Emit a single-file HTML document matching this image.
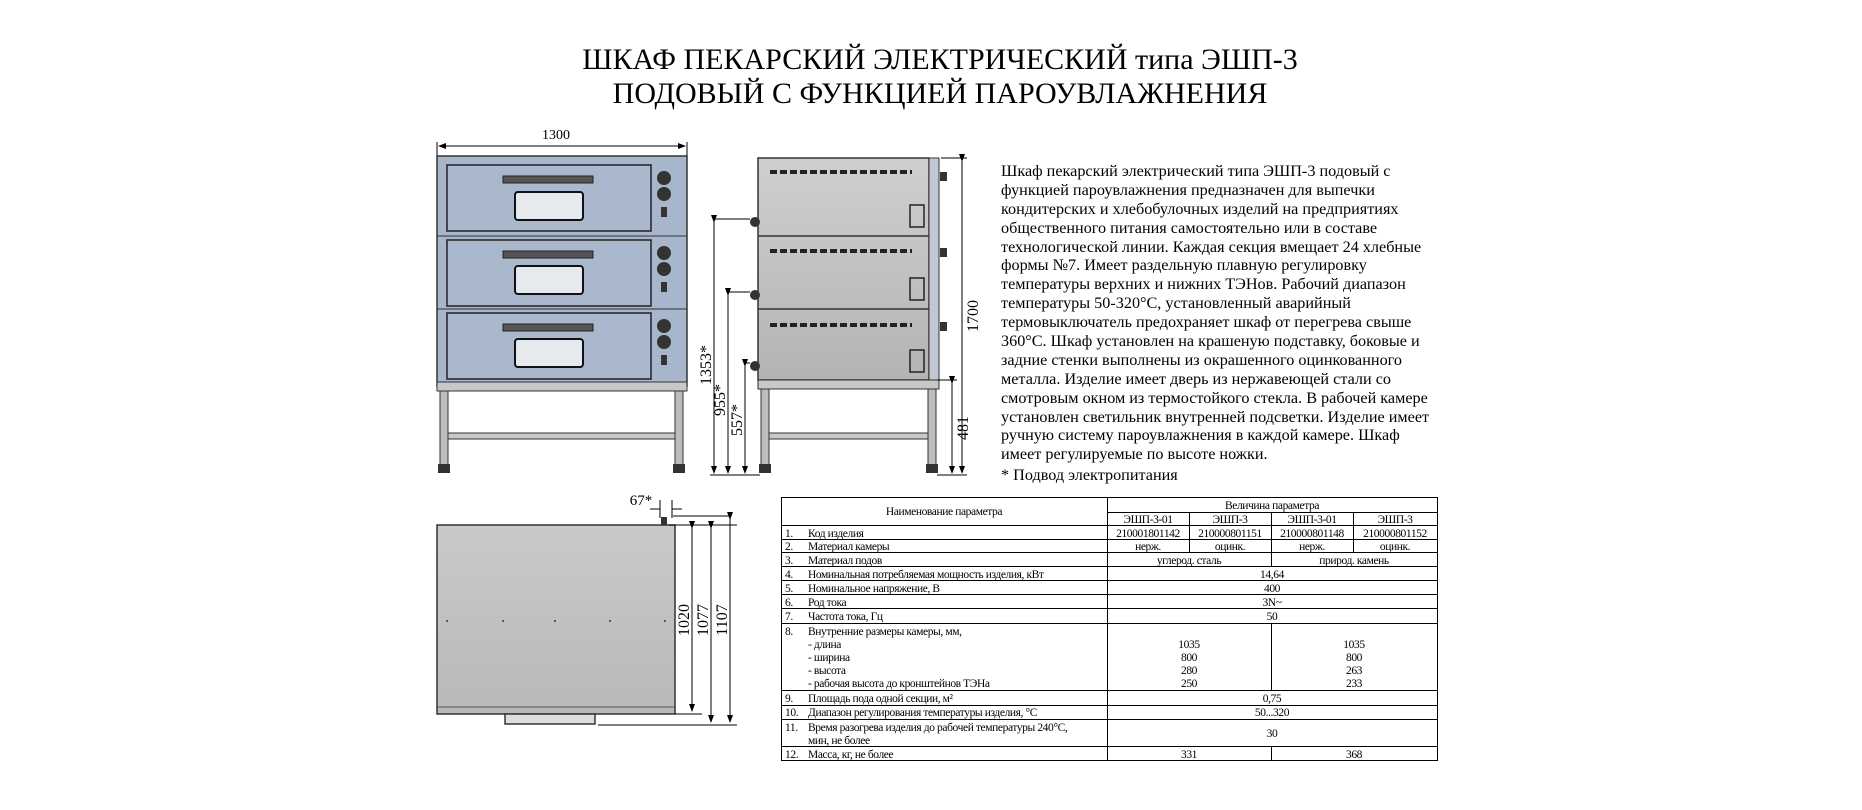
<!DOCTYPE html>
<html><head><meta charset="utf-8"><style>
html,body{margin:0;padding:0;background:#fff;}
svg{display:block;font-family:"Liberation Serif",serif;}
</style></head><body>
<svg width="1862" height="810" viewBox="0 0 1862 810" xmlns="http://www.w3.org/2000/svg">
<defs>
<linearGradient id="gs" x1="0" y1="0" x2="0" y2="1"><stop offset="0" stop-color="#cfcfcf"/><stop offset="1" stop-color="#b4b4b4"/></linearGradient>
<linearGradient id="gt" x1="0" y1="0" x2="0" y2="1"><stop offset="0" stop-color="#c9c9c9"/><stop offset="1" stop-color="#b9b9b9"/></linearGradient>
<marker id="ar" markerWidth="8" markerHeight="6" refX="7" refY="3" orient="auto"><path d="M0,0 L8,3 L0,6z" fill="#000"/></marker>
</defs>
<text x="940" y="69" font-size="30" text-anchor="middle">ШКАФ ПЕКАРСКИЙ ЭЛЕКТРИЧЕСКИЙ типа ЭШП-3</text>
<text x="940" y="103" font-size="30" text-anchor="middle">ПОДОВЫЙ С ФУНКЦИЕЙ ПАРОУВЛАЖНЕНИЯ</text>

<!-- FRONT VIEW -->
<text x="556" y="139" font-size="14" text-anchor="middle">1300</text>
<line x1="439" y1="146" x2="685" y2="146" stroke="#000" stroke-width="1" marker-end="url(#ar)"/>
<line x1="685" y1="146" x2="439" y2="146" stroke="#000" stroke-width="1" marker-end="url(#ar)"/>
<line x1="437" y1="142" x2="437" y2="156" stroke="#000"/><line x1="687" y1="142" x2="687" y2="156" stroke="#000"/>
<rect x="437" y="156" width="250" height="230" fill="#a7b6cb" stroke="#333" stroke-width="1.5"/>
<g stroke="#222" stroke-width="1.5">
<rect x="447" y="165" width="204" height="66" fill="#a9b8cd"/>
<rect x="447" y="240" width="204" height="66" fill="#a9b8cd"/>
<rect x="447" y="313" width="204" height="66" fill="#a9b8cd"/>
</g>
<g fill="#555" stroke="#222">
<rect x="503" y="176" width="90" height="7"/><rect x="503" y="251" width="90" height="7"/><rect x="503" y="324" width="90" height="7"/>
</g>
<g fill="#e6e9ee" stroke="#111" stroke-width="2">
<rect x="515" y="192" width="68" height="28" rx="3"/><rect x="515" y="266" width="68" height="28" rx="3"/><rect x="515" y="339" width="68" height="28" rx="3"/>
</g>
<g fill="#333">
<circle cx="664" cy="178" r="7"/><circle cx="664" cy="194" r="7"/><rect x="661" y="207" width="6" height="10"/>
<circle cx="664" cy="253" r="7"/><circle cx="664" cy="269" r="7"/><rect x="661" y="282" width="6" height="10"/>
<circle cx="664" cy="326" r="7"/><circle cx="664" cy="342" r="7"/><rect x="661" y="355" width="6" height="10"/>
</g>
<line x1="437" y1="236" x2="687" y2="236" stroke="#333"/><line x1="437" y1="309" x2="687" y2="309" stroke="#333"/>
<rect x="437" y="382" width="250" height="9" fill="#c8c8c8" stroke="#333"/>
<rect x="445" y="433" width="234" height="6" fill="#c8c8c8" stroke="#333"/>
<rect x="440" y="391" width="8" height="75" fill="#bdbdbd" stroke="#333"/>
<rect x="675" y="391" width="8" height="75" fill="#bdbdbd" stroke="#333"/>
<rect x="438" y="464" width="12" height="9" fill="#333"/><rect x="673" y="464" width="12" height="9" fill="#333"/>

<!-- SIDE VIEW -->
<rect x="758" y="158" width="171" height="222" fill="url(#gs)" stroke="#333" stroke-width="1.5"/>
<line x1="758" y1="236" x2="929" y2="236" stroke="#333" stroke-width="1.5"/>
<line x1="758" y1="309" x2="929" y2="309" stroke="#333" stroke-width="1.5"/>
<rect x="929" y="158" width="10" height="222" fill="#c0c8d4" stroke="#333"/>
<g fill="#333">
<rect x="940" y="172" width="7" height="9"/><rect x="940" y="248" width="7" height="9"/><rect x="940" y="322" width="7" height="9"/>
<circle cx="755" cy="222" r="5"/><circle cx="755" cy="295" r="5"/><circle cx="755" cy="366" r="5"/>
</g>
<g stroke="#222" stroke-width="4" stroke-dasharray="7,3">
<line x1="770" y1="172" x2="912" y2="172"/><line x1="770" y1="251" x2="912" y2="251"/><line x1="770" y1="325" x2="912" y2="325"/>
</g>
<g fill="none" stroke="#222" stroke-width="1.5">
<rect x="910" y="205" width="14" height="22"/><rect x="910" y="278" width="14" height="22"/><rect x="910" y="350" width="14" height="22"/>
</g>
<rect x="758" y="380" width="181" height="9" fill="#c8c8c8" stroke="#333"/>
<rect x="766" y="433" width="165" height="6" fill="#c8c8c8" stroke="#333"/>
<rect x="761" y="389" width="8" height="77" fill="#bdbdbd" stroke="#333"/>
<rect x="928" y="389" width="8" height="77" fill="#bdbdbd" stroke="#333"/>
<rect x="759" y="464" width="12" height="9" fill="#333"/><rect x="926" y="464" width="12" height="9" fill="#333"/>
<!-- dims side -->
<g stroke="#000" stroke-width="1" fill="none">
<line x1="714" y1="219" x2="750" y2="219"/><line x1="714" y1="222" x2="714" y2="473" marker-start="url(#ar)" marker-end="url(#ar)"/>
<line x1="728" y1="292" x2="750" y2="292"/><line x1="728" y1="295" x2="728" y2="473" marker-start="url(#ar)" marker-end="url(#ar)"/>
<line x1="745" y1="363" x2="750" y2="363"/><line x1="745" y1="366" x2="745" y2="473" marker-start="url(#ar)" marker-end="url(#ar)"/>
<line x1="710" y1="475" x2="760" y2="475"/>
<line x1="941" y1="158" x2="967" y2="158"/><line x1="962" y1="161" x2="962" y2="473" marker-start="url(#ar)" marker-end="url(#ar)"/>
<line x1="937" y1="380" x2="957" y2="380"/><line x1="952" y1="383" x2="952" y2="473" marker-start="url(#ar)" marker-end="url(#ar)"/>
<line x1="937" y1="475" x2="967" y2="475"/>
</g>
<g font-size="16">
<text transform="translate(711,365) rotate(-90)" text-anchor="middle">1353*</text>
<text transform="translate(725,400) rotate(-90)" text-anchor="middle">955*</text>
<text transform="translate(742,420) rotate(-90)" text-anchor="middle">557*</text>
<text transform="translate(978,316) rotate(-90)" text-anchor="middle">1700</text>
<text transform="translate(968,428) rotate(-90)" text-anchor="middle">481</text>
</g>

<!-- paragraph -->
<g font-size="16.2">
<text x="1001" y="176">Шкаф пекарский электрический типа ЭШП-3 подовый с</text>
<text x="1001" y="195">функцией пароувлажнения предназначен для выпечки</text>
<text x="1001" y="214">кондитерских и хлебобулочных изделий на предприятиях</text>
<text x="1001" y="233">общественного питания самостоятельно или в составе</text>
<text x="1001" y="252">технологической линии. Каждая секция вмещает 24 хлебные</text>
<text x="1001" y="270">формы №7. Имеет раздельную плавную регулировку</text>
<text x="1001" y="289">температуры верхних и нижних ТЭНов. Рабочий диапазон</text>
<text x="1001" y="308">температуры 50-320°С, установленный аварийный</text>
<text x="1001" y="327">термовыключатель предохраняет  шкаф от перегрева свыше</text>
<text x="1001" y="346">360°С. Шкаф установлен на крашеную подставку, боковые и</text>
<text x="1001" y="365">задние стенки выполнены из окрашенного оцинкованного</text>
<text x="1001" y="384">металла. Изделие имеет дверь из нержавеющей стали со</text>
<text x="1001" y="403">смотровым окном из термостойкого стекла. В рабочей камере</text>
<text x="1001" y="422">установлен светильник внутренней подсветки. Изделие имеет</text>
<text x="1001" y="440">ручную систему пароувлажнения в каждой камере. Шкаф</text>
<text x="1001" y="459">имеет регулируемые по высоте ножки.</text>
<text x="1001" y="480">* Подвод электропитания</text>
</g>

<!-- TOP VIEW -->
<rect x="437" y="525" width="238" height="189" fill="url(#gt)" stroke="#333" stroke-width="1.5"/>
<line x1="437" y1="707" x2="675" y2="707" stroke="#555"/>
<rect x="505" y="714" width="90" height="10" fill="#ddd" stroke="#333" stroke-width="1.5"/>
<g fill="#333"><circle cx="447" cy="621" r="1"/><circle cx="503" cy="621" r="1"/><circle cx="555" cy="621" r="1"/><circle cx="610" cy="621" r="1"/><circle cx="665" cy="621" r="1"/></g>
<rect x="661" y="517" width="6" height="8" fill="#333"/>
<text x="641" y="505" font-size="15" text-anchor="middle">67*</text>
<g stroke="#000" stroke-width="1" fill="none">
<line x1="660" y1="500" x2="660" y2="518"/><line x1="672" y1="500" x2="672" y2="518"/>
<line x1="650" y1="509" x2="660" y2="509"/><line x1="672" y1="509" x2="682" y2="509"/>
<line x1="669" y1="525" x2="737" y2="525"/><line x1="598" y1="725" x2="737" y2="725"/><line x1="675" y1="714" x2="702" y2="714"/>
<line x1="692" y1="528" x2="692" y2="711" marker-start="url(#ar)" marker-end="url(#ar)"/>
<line x1="711" y1="528" x2="711" y2="722" marker-start="url(#ar)" marker-end="url(#ar)"/>
<line x1="730" y1="519" x2="730" y2="722" marker-start="url(#ar)" marker-end="url(#ar)"/>
<line x1="730" y1="516" x2="673" y2="516"/>
</g>
<g font-size="16">
<text transform="translate(689,620) rotate(-90)" text-anchor="middle">1020</text>
<text transform="translate(708,620) rotate(-90)" text-anchor="middle">1077</text>
<text transform="translate(727,620) rotate(-90)" text-anchor="middle">1107</text>
</g>

<!-- TABLE -->
<g stroke="#000" stroke-width="1" fill="none">
<rect x="781.5" y="497.5" width="656" height="263"/>
<line x1="1107.5" y1="497" x2="1107.5" y2="761"/>
<line x1="1107" y1="512.5" x2="1438" y2="512.5"/>
<line x1="781" y1="525.5" x2="1438" y2="525.5"/>
<line x1="781" y1="539.5" x2="1438" y2="539.5"/>
<line x1="781" y1="552.5" x2="1438" y2="552.5"/>
<line x1="781" y1="566.5" x2="1438" y2="566.5"/>
<line x1="781" y1="580.5" x2="1438" y2="580.5"/>
<line x1="781" y1="594.5" x2="1438" y2="594.5"/>
<line x1="781" y1="608.5" x2="1438" y2="608.5"/>
<line x1="781" y1="623.5" x2="1438" y2="623.5"/>
<line x1="781" y1="690.5" x2="1438" y2="690.5"/>
<line x1="781" y1="705.5" x2="1438" y2="705.5"/>
<line x1="781" y1="719.5" x2="1438" y2="719.5"/>
<line x1="781" y1="746.5" x2="1438" y2="746.5"/>
<line x1="1189.5" y1="512" x2="1189.5" y2="552"/>
<line x1="1353.5" y1="512" x2="1353.5" y2="552"/>
<line x1="1271.5" y1="512" x2="1271.5" y2="566"/>
<line x1="1271.5" y1="623" x2="1271.5" y2="690"/>
<line x1="1271.5" y1="746" x2="1271.5" y2="761"/>
</g>
<g font-size="11.5" letter-spacing="-0.4">
<text x="944" y="515" text-anchor="middle">Наименование параметра</text>
<text x="1272" y="509" text-anchor="middle">Величина параметра</text>
<g text-anchor="middle">
<text x="1148" y="523">ЭШП-3-01</text><text x="1230" y="523">ЭШП-3</text><text x="1312" y="523">ЭШП-3-01</text><text x="1395" y="523">ЭШП-3</text>
<text x="1148" y="537">210001801142</text><text x="1230" y="537">210000801151</text><text x="1312" y="537">210000801148</text><text x="1395" y="537">210000801152</text>
<text x="1148" y="550">нерж.</text><text x="1230" y="550">оцинк.</text><text x="1312" y="550">нерж.</text><text x="1395" y="550">оцинк.</text>
<text x="1189" y="564">углерод. сталь</text><text x="1354" y="564">природ. камень</text>
<text x="1272" y="578">14,64</text><text x="1272" y="592">400</text><text x="1272" y="606">3N~</text><text x="1272" y="620">50</text>
<text x="1189" y="648">1035</text><text x="1189" y="661">800</text><text x="1189" y="674">280</text><text x="1189" y="687">250</text>
<text x="1354" y="648">1035</text><text x="1354" y="661">800</text><text x="1354" y="674">263</text><text x="1354" y="687">233</text>
<text x="1272" y="702">0,75</text><text x="1272" y="716">50...320</text><text x="1272" y="737">30</text>
<text x="1189" y="758">331</text><text x="1354" y="758">368</text>
</g>
<text x="785" y="537">1.</text><text x="808" y="537">Код изделия</text>
<text x="785" y="550">2.</text><text x="808" y="550">Материал камеры</text>
<text x="785" y="564">3.</text><text x="808" y="564">Материал подов</text>
<text x="785" y="578">4.</text><text x="808" y="578">Номинальная потребляемая мощность изделия, кВт</text>
<text x="785" y="592">5.</text><text x="808" y="592">Номинальное напряжение, В</text>
<text x="785" y="606">6.</text><text x="808" y="606">Род тока</text>
<text x="785" y="620">7.</text><text x="808" y="620">Частота тока, Гц</text>
<text x="785" y="635">8.</text><text x="808" y="635">Внутренние размеры камеры, мм,</text>
<text x="808" y="648">- длина</text><text x="808" y="661">- ширина</text><text x="808" y="674">- высота</text><text x="808" y="687">- рабочая высота до кронштейнов ТЭНа</text>
<text x="785" y="702">9.</text><text x="808" y="702">Площадь пода одной секции, м²</text>
<text x="785" y="716">10.</text><text x="808" y="716">Диапазон регулирования температуры изделия, °С</text>
<text x="785" y="731">11.</text><text x="808" y="731">Время разогрева изделия до рабочей  температуры 240°С,</text>
<text x="808" y="744">мин, не более</text>
<text x="785" y="758">12.</text><text x="808" y="758">Масса, кг, не более</text>
</g>
</svg>
</body></html>
